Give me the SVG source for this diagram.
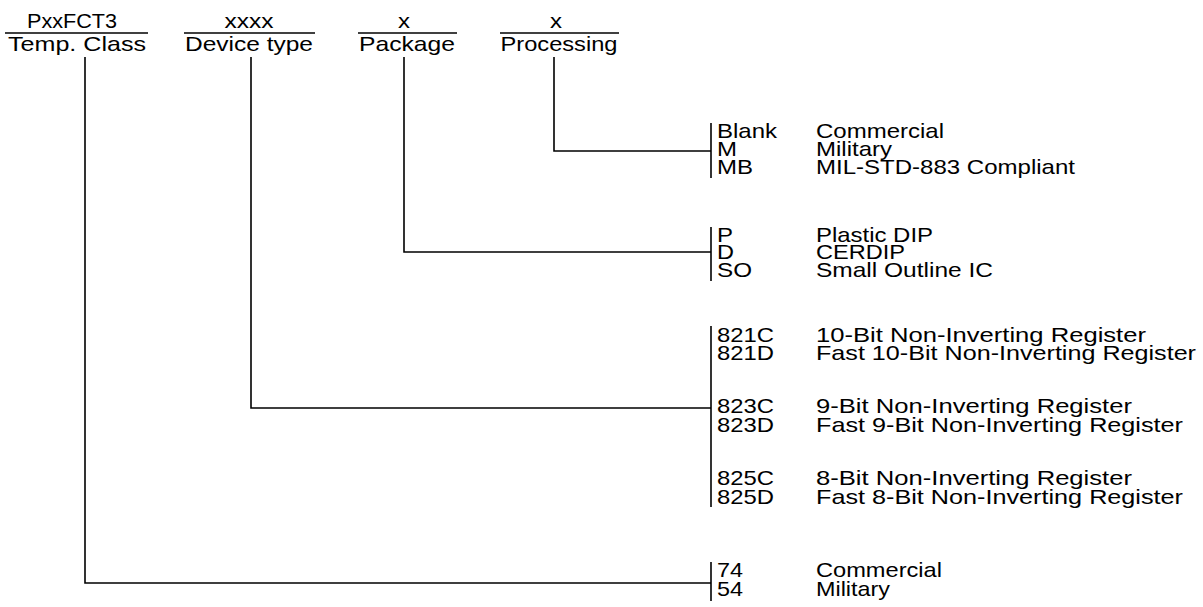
<svg xmlns="http://www.w3.org/2000/svg" width="1203" height="607" viewBox="0 0 1203 607">
<style>
text{font-family:"Liberation Sans",Arial,sans-serif;font-size:21px;fill:#000}
.h{text-anchor:middle}
line,polyline{stroke:#000;stroke-width:1.6;fill:none}
</style>
<rect width="1203" height="607" fill="#fff"/>
<g id="hdr-temp">
<text class="h" x="72" y="28" textLength="90" lengthAdjust="spacingAndGlyphs">PxxFCT3</text>
<line x1="5" y1="33" x2="148" y2="33"/>
<text class="h" x="77" y="51" textLength="138" lengthAdjust="spacingAndGlyphs">Temp. Class</text>
</g>
<g id="hdr-device">
<text class="h" x="249" y="28" textLength="49" lengthAdjust="spacingAndGlyphs">xxxx</text>
<line x1="184" y1="33" x2="315" y2="33"/>
<text class="h" x="249" y="51" textLength="128" lengthAdjust="spacingAndGlyphs">Device type</text>
</g>
<g id="hdr-package">
<text class="h" x="404" y="28" textLength="12" lengthAdjust="spacingAndGlyphs">x</text>
<line x1="358" y1="33" x2="457" y2="33"/>
<text class="h" x="407" y="51" textLength="96" lengthAdjust="spacingAndGlyphs">Package</text>
</g>
<g id="hdr-processing">
<text class="h" x="556" y="28" textLength="12" lengthAdjust="spacingAndGlyphs">x</text>
<line x1="500" y1="33" x2="619" y2="33"/>
<text class="h" x="559" y="51" textLength="117" lengthAdjust="spacingAndGlyphs">Processing</text>
</g>
<g id="connectors">
<polyline points="554,57 554,151 711,151"/>
<polyline points="404,57 404,252 711,252"/>
<polyline points="251,57 251,408 711,408"/>
<polyline points="85,57 85,583 711,583"/>
<line x1="711" y1="123" x2="711" y2="178"/>
<line x1="711" y1="227" x2="711" y2="281"/>
<line x1="711" y1="326" x2="711" y2="507"/>
<line x1="711" y1="562" x2="711" y2="601"/>
</g>
<g id="opt-processing">
<text x="717" y="138" textLength="60" lengthAdjust="spacingAndGlyphs">Blank</text><text x="816" y="138" textLength="128" lengthAdjust="spacingAndGlyphs">Commercial</text>
<text x="717" y="156" textLength="20" lengthAdjust="spacingAndGlyphs">M</text><text x="816" y="156" textLength="76" lengthAdjust="spacingAndGlyphs">Military</text>
<text x="717" y="174" textLength="36" lengthAdjust="spacingAndGlyphs">MB</text><text x="816" y="174" textLength="259" lengthAdjust="spacingAndGlyphs">MIL-STD-883 Compliant</text>
</g>
<g id="opt-package">
<text x="717" y="242" textLength="16" lengthAdjust="spacingAndGlyphs">P</text><text x="816" y="242" textLength="117" lengthAdjust="spacingAndGlyphs">Plastic DIP</text>
<text x="717" y="259" textLength="17" lengthAdjust="spacingAndGlyphs">D</text><text x="816" y="259" textLength="89" lengthAdjust="spacingAndGlyphs">CERDIP</text>
<text x="717" y="277" textLength="35" lengthAdjust="spacingAndGlyphs">SO</text><text x="816" y="277" textLength="177" lengthAdjust="spacingAndGlyphs">Small Outline IC</text>
</g>
<g id="opt-device">
<text x="717" y="342" textLength="57" lengthAdjust="spacingAndGlyphs">821C</text><text x="816" y="342" textLength="330" lengthAdjust="spacingAndGlyphs">10-Bit Non-Inverting Register</text>
<text x="717" y="360" textLength="57" lengthAdjust="spacingAndGlyphs">821D</text><text x="816" y="360" textLength="380" lengthAdjust="spacingAndGlyphs">Fast 10-Bit Non-Inverting Register</text>
<text x="717" y="413" textLength="57" lengthAdjust="spacingAndGlyphs">823C</text><text x="816" y="413" textLength="316" lengthAdjust="spacingAndGlyphs">9-Bit Non-Inverting Register</text>
<text x="717" y="432" textLength="57" lengthAdjust="spacingAndGlyphs">823D</text><text x="816" y="432" textLength="367" lengthAdjust="spacingAndGlyphs">Fast 9-Bit Non-Inverting Register</text>
<text x="717" y="485" textLength="57" lengthAdjust="spacingAndGlyphs">825C</text><text x="816" y="485" textLength="316" lengthAdjust="spacingAndGlyphs">8-Bit Non-Inverting Register</text>
<text x="717" y="504" textLength="57" lengthAdjust="spacingAndGlyphs">825D</text><text x="816" y="504" textLength="367" lengthAdjust="spacingAndGlyphs">Fast 8-Bit Non-Inverting Register</text>
</g>
<g id="opt-temp">
<text x="717" y="577" textLength="26" lengthAdjust="spacingAndGlyphs">74</text><text x="816" y="577" textLength="126" lengthAdjust="spacingAndGlyphs">Commercial</text>
<text x="717" y="596" textLength="26" lengthAdjust="spacingAndGlyphs">54</text><text x="816" y="596" textLength="74" lengthAdjust="spacingAndGlyphs">Military</text>
</g>
</svg>
